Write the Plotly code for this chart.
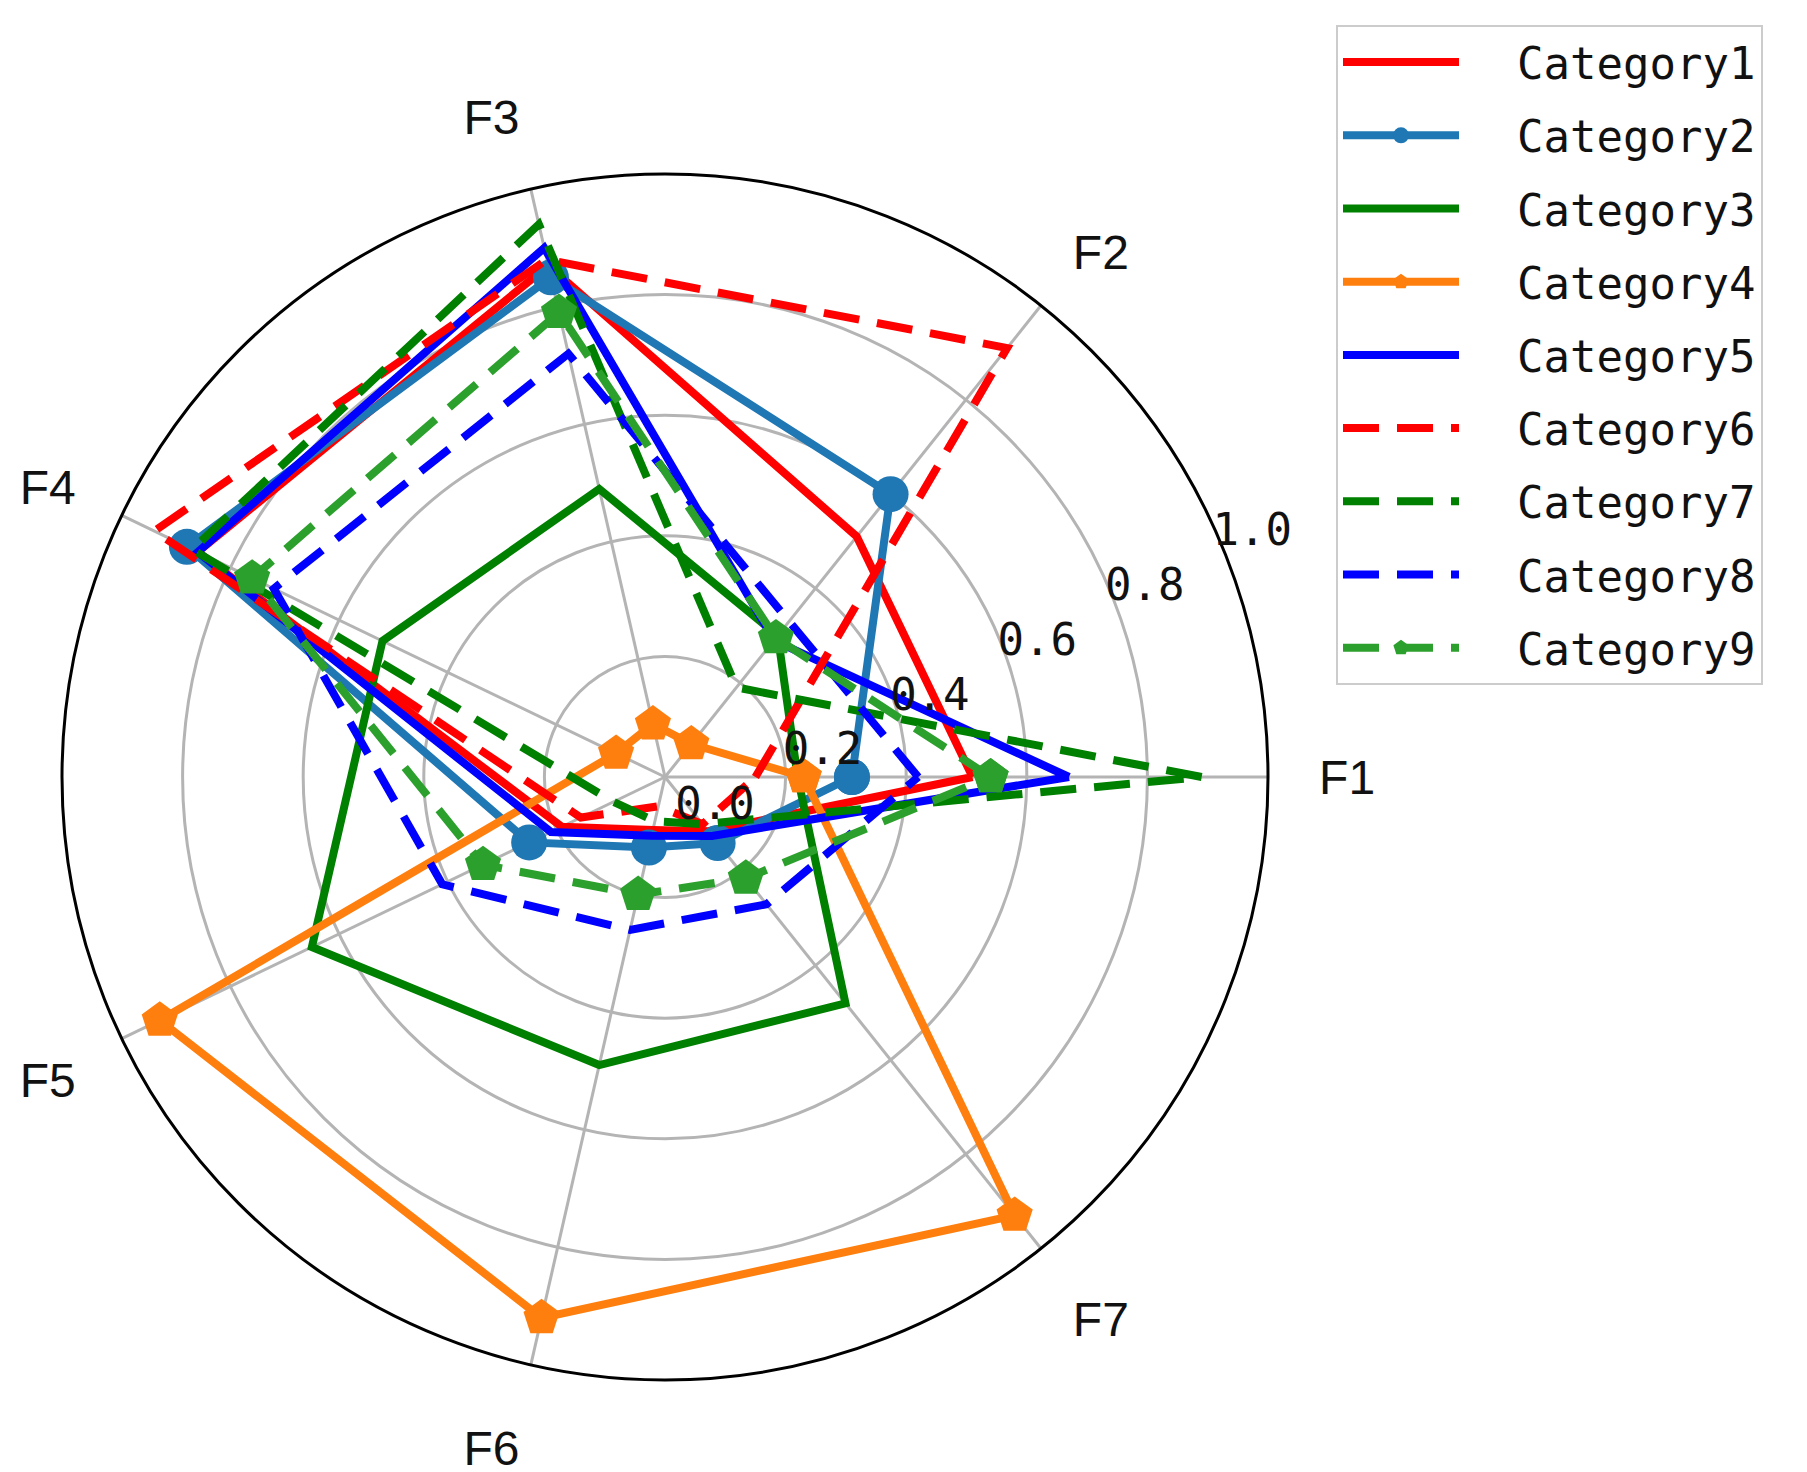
import plotly.graph_objects as go

features = ["F1", "F2", "F3", "F4", "F5", "F6", "F7"]
radial_ticks = [0.0, 0.2, 0.4, 0.6, 0.8, 1.0]
radial_ticktext = ["0.0", "0.2", "0.4", "0.6", "0.8", "1.0"]

cat1 = [0.51, 0.51, 0.87, 0.86, 0.19, 0.09, 0.115]
cat2 = [0.31, 0.60, 0.85, 0.88, 0.25, 0.12, 0.14]
cat3 = [0.22, 0.30, 0.49, 0.52, 0.65, 0.49, 0.48]
cat4 = [0.23, 0.07, 0.09, 0.09, 0.93, 0.92, 0.93]
cat5 = [0.67, 0.29, 0.90, 0.86, 0.21, 0.10, 0.125]
cat6 = [0.15, 0.91, 0.88, 0.94, 0.155, 0.05, 0.10]
cat7 = [0.89, 0.19, 0.94, 0.87, 0.095, 0.075, 0.10]
cat8 = [0.42, 0.33, 0.72, 0.72, 0.41, 0.26, 0.27]
cat9 = [0.54, 0.295, 0.79, 0.76, 0.335, 0.20, 0.215]

series_names = ["Category1", "Category2", "Category3", "Category4", "Category5",
                "Category6", "Category7", "Category8", "Category9"]
series_values = [cat1, cat2, cat3, cat4, cat5, cat6, cat7, cat8, cat9]
series_colors = ["#ff0000", "#1f77b4", "#008000", "#ff7f0e", "#0000ff",
                 "#ff0000", "#008000", "#0000ff", "#2ca02c"]
series_dash = ["solid", "solid", "solid", "solid", "solid",
               "36px,18px", "36px,18px", "36px,18px", "36px,18px"]
series_marker = [None, "circle", None, "pentagon", None, None, None, None, "pentagon"]

n = len(features)
angles = [i * 360.0 / n for i in range(n)]

fig = go.Figure()
for name, vals, col, dash, mk in zip(series_names, series_values, series_colors,
                                     series_dash, series_marker):
    r = list(vals) + [vals[0]]
    th = angles + [angles[0]]
    kw = dict(mode="lines")
    if mk:
        kw = dict(mode="lines+markers",
                  marker=dict(symbol=mk, size=36 if mk == "circle" else 38,
                              color=col, line=dict(width=0)))
    fig.add_trace(go.Scatterpolar(
        r=r, theta=th, name="\u00a0\u00a0" + name, legendgroup=name,
        line=dict(color=col, width=8, dash=dash), **kw))

fig.update_layout(
    width=1807, height=1472,
    paper_bgcolor="white",
    margin=dict(l=0, r=0, t=0, b=0),
    showlegend=True,
    polar=dict(
        domain=dict(x=[54 / 1807, 1260 / 1807], y=[100 / 1472, 1306 / 1472]),
        bgcolor="white",
        radialaxis=dict(
            range=[0, 1], tickvals=radial_ticks, ticktext=radial_ticktext,
            angle=27, tickangle=27, side="clockwise",
            showline=False, ticks="",
            gridcolor="#b4b4b4", gridwidth=2.5,
            tickfont=dict(family="DejaVu Sans Mono", size=44, color="#111111"),
        ),
        angularaxis=dict(
            tickmode="array", tickvals=angles, ticktext=features,
            direction="counterclockwise", rotation=0,
            showline=True, linecolor="black", linewidth=3,
            gridcolor="#b4b4b4", gridwidth=2.5,
            ticks="outside", ticklen=40, tickcolor="rgba(0,0,0,0)",
            tickfont=dict(family="Liberation Sans", size=48, color="#111111"),
        ),
    ),
    legend=dict(
        x=1328 / 1807, y=1 - 17 / 1472, xanchor="left", yanchor="top",
        bordercolor="#cccccc", borderwidth=2, bgcolor="white",
        font=dict(family="DejaVu Sans Mono", size=44, color="#111111"),
        tracegroupgap=13, itemwidth=116,
    ),
)

fig.write_html("out.html")
